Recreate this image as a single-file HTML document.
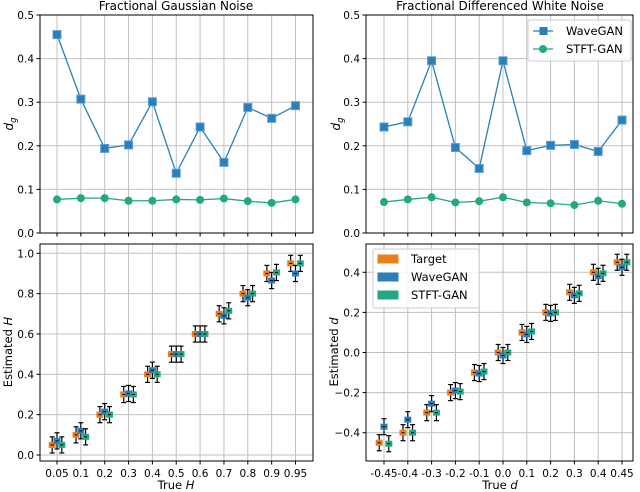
<!DOCTYPE html>
<html><head><meta charset="utf-8"><style>
body{margin:0;background:#fff}
svg{font-family:"DejaVu Sans","Liberation Sans",sans-serif;display:block}
</style></head><body>
<svg id="c" width="640" height="492" viewBox="0 0 640 492"></svg>
<script>
const fgnTrue=[0.05,0.1,0.2,0.3,0.4,0.5,0.6,0.7,0.8,0.9,0.95];
const fgnLabels=["0.05","0.1","0.2","0.3","0.4","0.5","0.6","0.7","0.8","0.9","0.95"];
const fdwnTrue=[-0.45,-0.4,-0.3,-0.2,-0.1,0.0,0.1,0.2,0.3,0.4,0.45];
const fdwnLabels=["-0.45","-0.4","-0.3","-0.2","-0.1","0.0","0.1","0.2","0.3","0.4","0.45"];
const fgnDgWave=[0.455,0.307,0.194,0.202,0.301,0.137,0.243,0.162,0.288,0.263,0.292];
const fgnDgStft=[0.077,0.080,0.080,0.074,0.074,0.077,0.076,0.079,0.073,0.069,0.077];
const fdwnDgWave=[0.243,0.255,0.395,0.196,0.148,0.395,0.189,0.201,0.203,0.187,0.259];
const fdwnDgStft=[0.071,0.077,0.082,0.070,0.073,0.082,0.070,0.068,0.064,0.074,0.067];
const fgnEstWave=[0.07,0.12,0.215,0.305,0.42,0.5,0.6,0.69,0.78,0.865,0.90];
const fgnEstStft=[0.05,0.09,0.2,0.3,0.4,0.5,0.6,0.715,0.8,0.905,0.95];
const fdwnEstWave=[-0.37,-0.335,-0.255,-0.19,-0.105,-0.015,0.09,0.195,0.285,0.38,0.425];
const fdwnEstStft=[-0.455,-0.4,-0.3,-0.195,-0.095,0.0,0.105,0.2,0.295,0.395,0.45];
const estErr=[0.04,0.04,0.04,0.04,0.04,0.04,0.04,0.04,0.04,0.04,0.04];
const dgTicks=[0,0.1,0.2,0.3,0.4,0.5];
const hTicks=[0,0.2,0.4,0.6,0.8,1.0];
const dTicks=[-0.4,-0.2,0,0.2,0.4];

const CB="#2a7fba",CG="#22a884",CO="#e87f1e";
const svg=document.getElementById('c');
const NS="http://www.w3.org/2000/svg";
function mk(t,a,p,txt){const e=document.createElementNS(NS,t);for(const k in a)e.setAttribute(k,a[k]);if(txt!==undefined)e.textContent=txt;(p||svg).appendChild(e);return e;}

function panel(cfg){
  const g=mk('g',{});
  
  
  const n=cfg.labels.length;
  const xs=i=>cfg.x0+(cfg.x1-cfg.x0)*i/(n-1);
  const ys=v=>cfg.yA+(v-cfg.vA)*(cfg.yB-cfg.yA)/(cfg.vB-cfg.vA);
  for(let i=0;i<n;i++){const l=mk('line',{x1:xs(i),x2:xs(i),y1:cfg.top,y2:cfg.bot,stroke:"#c0c0c0","stroke-width":1},g);
    }
  cfg.yticks.forEach(v=>{const y=ys(v);
    const l=mk('line',{x1:cfg.left,x2:cfg.right,y1:y,y2:y,stroke:"#c0c0c0","stroke-width":1},g);
    
    mk('line',{x1:cfg.left-3.5,x2:cfg.left,y1:y,y2:y,stroke:"#000"},g);
    const t=mk('text',{x:cfg.left-6,y:y+4,"font-size":10.5,"text-anchor":"end"},g,v.toFixed(1).replace('-','−'));
    
  });
  for(let i=0;i<n;i++){mk('line',{x1:xs(i),x2:xs(i),y1:cfg.bot,y2:cfg.bot+3.5,stroke:"#000"},g);
    if(cfg.showX){const t=mk('text',{x:xs(i),y:cfg.bot+16,"font-size":10.5,"text-anchor":"middle"},g,cfg.labels[i]);
      }}
  cfg.draw(g,xs,ys);
  const f=mk('rect',{x:cfg.left,y:cfg.top,width:cfg.right-cfg.left,height:cfg.bot-cfg.top,fill:"none",stroke:"#000","stroke-width":1},g);
  
  return g;
}
function lines(g,xs,ys,arrW,arrS){
  [[arrW,CB,'wavegan'],[arrS,CG,'stftgan']].forEach(([arr,c,nm])=>{
    const pl=mk('polyline',{points:arr.map((v,i)=>xs(i)+','+ys(v)).join(' '),fill:"none",stroke:c,"stroke-width":1.3},g);
    
    arr.forEach((v,i)=>{let m;
      if(nm==='wavegan')m=mk('rect',{x:xs(i)-4,y:ys(v)-4,width:8,height:8,fill:c,stroke:"#5aa0d0","stroke-width":1},g);
      else m=mk('circle',{cx:xs(i),cy:ys(v),r:4,fill:c},g);
      });
  });
}
function boxes(g,xs,ys,tr,w,s){
  [[tr,CO,-4.8,'target'],[w,CB,0,'wavegan'],[s,CG,4.8,'stftgan']].forEach(([arr,c,off,nm])=>{
    arr.forEach((v,i)=>{const x=xs(i)+off,y=ys(v),e=estErr[i];
      const y1=ys(v+e),y2=ys(v-e);
      mk('line',{x1:x,x2:x,y1:y1,y2:y2,stroke:"#000","stroke-width":1.2},g);
      mk('line',{x1:x-2.5,x2:x+2.5,y1:y1,y2:y1,stroke:"#000","stroke-width":1.2},g);
      mk('line',{x1:x-2.5,x2:x+2.5,y1:y2,y2:y2,stroke:"#000","stroke-width":1.2},g);
      const b=mk('rect',{x:x-3,y:y-2.5,width:6,height:5,fill:c,stroke:c},g);
      
      mk('line',{x1:x-1.5,x2:x+1.5,y1:y,y2:y,stroke:"#000","stroke-width":1},g);
    });
  });
}
const L={left:40,right:313,x0:57,x1:295.5},R={left:366,right:633,x0:384,x1:622};
panel({name:'fgn-dg-panel',...L,top:15,bot:233,yA:233,vA:0,yB:15,vB:0.5,yticks:dgTicks,labels:fgnLabels,showX:false,
  draw:(g,xs,ys)=>lines(g,xs,ys,fgnDgWave,fgnDgStft)});
panel({name:'fdwn-dg-panel',...R,top:15,bot:233,yA:233,vA:0,yB:15,vB:0.5,yticks:dgTicks,labels:fdwnLabels,showX:false,
  draw:(g,xs,ys)=>lines(g,xs,ys,fdwnDgWave,fdwnDgStft)});
panel({name:'fgn-estimate-panel',...L,top:244,bot:461,yA:455,vA:0,yB:253.3,vB:1,yticks:hTicks,labels:fgnLabels,showX:true,
  draw:(g,xs,ys)=>boxes(g,xs,ys,fgnTrue,fgnEstWave,fgnEstStft)});
panel({name:'fdwn-estimate-panel',...R,top:244,bot:461,yA:352.5,vA:0,yB:272.3,vB:0.4,yticks:dTicks,labels:fdwnLabels,showX:true,
  draw:(g,xs,ys)=>boxes(g,xs,ys,fdwnTrue,fdwnEstWave,fdwnEstStft)});

function txt(a,s,name,html){const t=mk('text',a,svg);t.innerHTML=html||s;return t;}
txt({x:176,y:10,"font-size":12,"text-anchor":"middle"},"Fractional Gaussian Noise","left-title");
txt({x:500,y:10,"font-size":12,"text-anchor":"middle"},"Fractional Differenced White Noise","right-title");
txt({x:0,y:0,"font-size":12,"text-anchor":"middle",transform:"translate(13,124) rotate(-90)"},"","left-top-y-title",'<tspan font-style="italic">d</tspan><tspan font-style="italic" font-size="8.5" dy="3">g</tspan>');
txt({x:0,y:0,"font-size":12,"text-anchor":"middle",transform:"translate(340,124) rotate(-90)"},"","right-top-y-title",'<tspan font-style="italic">d</tspan><tspan font-style="italic" font-size="8.5" dy="3">g</tspan>');
txt({x:0,y:0,"font-size":11.5,"text-anchor":"middle",transform:"translate(12,352) rotate(-90)"},"","left-bottom-y-title",'Estimated <tspan font-style="italic">H</tspan>');
txt({x:0,y:0,"font-size":11.5,"text-anchor":"middle",transform:"translate(338,352) rotate(-90)"},"","right-bottom-y-title",'Estimated <tspan font-style="italic">d</tspan>');
txt({x:176,y:489,"font-size":11.5,"text-anchor":"middle"},"","left-x-title",'True <tspan font-style="italic">H</tspan>');
txt({x:500,y:489,"font-size":11.5,"text-anchor":"middle"},"","right-x-title",'True <tspan font-style="italic">d</tspan>');

const lg=mk('g',{});
mk('rect',{x:528,y:20,width:103,height:41,rx:2,fill:"#fff","fill-opacity":0.85,stroke:"#ccc"},lg);
mk('line',{x1:533,x2:553,y1:31,y2:31,stroke:CB,"stroke-width":1.3},lg);
mk('rect',{x:539.5,y:27,width:8,height:8,fill:CB},lg);
mk('text',{x:566,y:35,"font-size":11.5},lg,"WaveGAN");
mk('line',{x1:533,x2:553,y1:49,y2:49,stroke:CG,"stroke-width":1.3},lg);
mk('circle',{cx:543,cy:49,r:4,fill:CG},lg);
mk('text',{x:566,y:53,"font-size":11.5},lg,"STFT-GAN");
const lb=mk('g',{});
mk('rect',{x:373,y:249,width:106,height:59,rx:2,fill:"#fff","fill-opacity":0.85,stroke:"#ccc"},lb);
[[CO,"Target",259],[CB,"WaveGAN",277],[CG,"STFT-GAN",295]].forEach(([c,s,y])=>{
  mk('rect',{x:378,y:y-4,width:20,height:8,fill:c,stroke:c},lb);
  mk('text',{x:411,y:y+4,"font-size":11.5},lb,s);
});
</script>
</body></html>
